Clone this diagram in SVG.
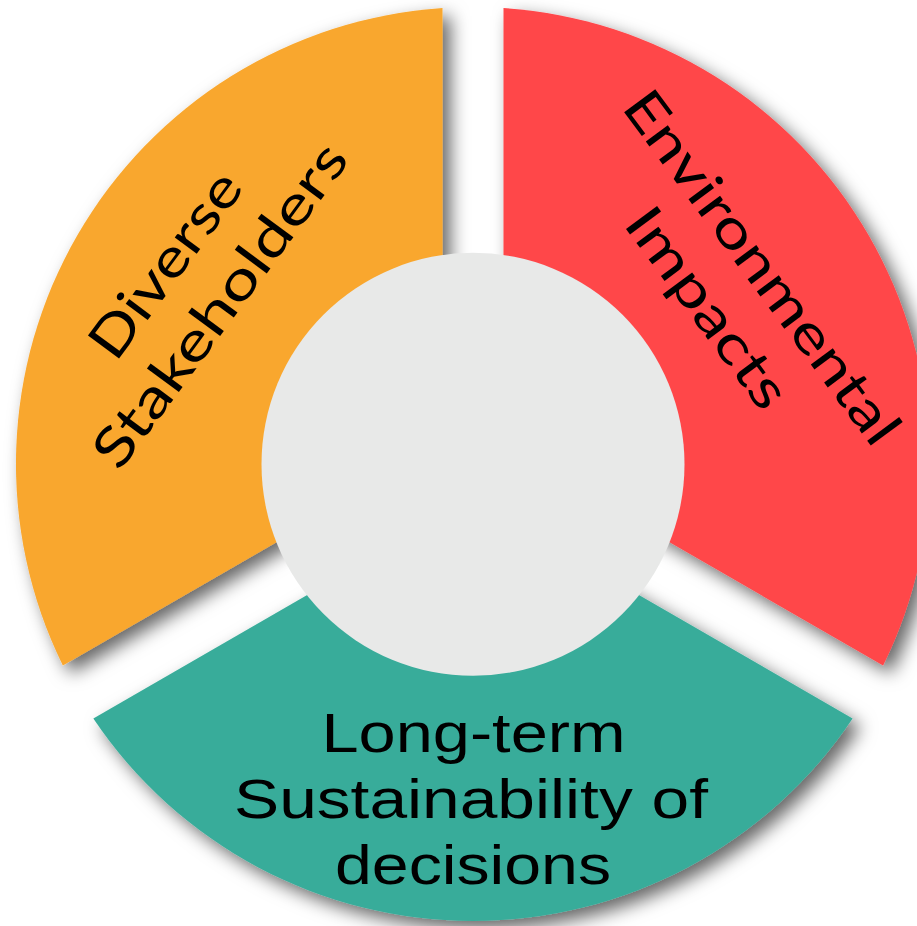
<svg xmlns="http://www.w3.org/2000/svg" width="917" height="926" viewBox="0 0 917 926">
  <defs>
    <filter id="shadow" x="-20%" y="-20%" width="140%" height="140%">
      <feDropShadow dx="8" dy="8" stdDeviation="9" flood-color="#000" flood-opacity="0.6"/>
    </filter>
    <style>
      .seg { filter: url(#shadow); }
      .lbl { font-family: Lato, "Noto Sans", "Liberation Sans", sans-serif; font-weight: 400; font-size: 54px; fill: #000; text-anchor: middle; }
      .lbl2 { font-family: "Liberation Sans", Arial, sans-serif; font-size: 55px; fill: #000; text-anchor: middle; }
    </style>
  </defs>
  <rect width="917" height="926" fill="#ffffff"/>

  <g id="node-diverse-stakeholders">
    <path class="seg" fill="#F9A72E" d="M442.5,8 A457,457 0 0 0 62.85,665.6 L442.5,446.4 Z"/>
    <g transform="translate(180.4,275.7) rotate(-53.5)">
      <text class="lbl" x="0" y="0" textLength="218" lengthAdjust="spacingAndGlyphs">Diverse</text>
      <text class="lbl" x="0" y="68" textLength="389" lengthAdjust="spacingAndGlyphs">Stakeholders</text>
    </g>
  </g>

  <g id="node-environmental-impacts">
    <path class="seg" fill="#FF4649" d="M503.5,8 A457,457 0 0 1 883.1,665.6 L503.5,446.4 Z"/>
    <g transform="translate(747.1,278.4) rotate(53.5)">
      <text class="lbl" x="0" y="0" textLength="426" lengthAdjust="spacingAndGlyphs">Environmental</text>
      <text class="lbl" x="0" y="68" textLength="236" lengthAdjust="spacingAndGlyphs">Impacts</text>
    </g>
  </g>

  <g id="node-long-term-sustainability">
    <path class="seg" fill="#39AC9A" d="M852.6,718.4 A457,457 0 0 1 93.35,718.4 L473,499.2 Z"/>
    <text class="lbl2" x="473.5" y="752" textLength="304" lengthAdjust="spacingAndGlyphs">Long-term</text>
    <text class="lbl2" x="471" y="818" textLength="474" lengthAdjust="spacingAndGlyphs">Sustainability of</text>
    <text class="lbl2" x="473" y="884" textLength="276" lengthAdjust="spacingAndGlyphs">decisions</text>
  </g>

  <g id="node-center">
    <circle cx="473" cy="464.3" r="211.5" fill="#E8E9E8"/>
  </g>

  <g id="connectors"/>
</svg>
